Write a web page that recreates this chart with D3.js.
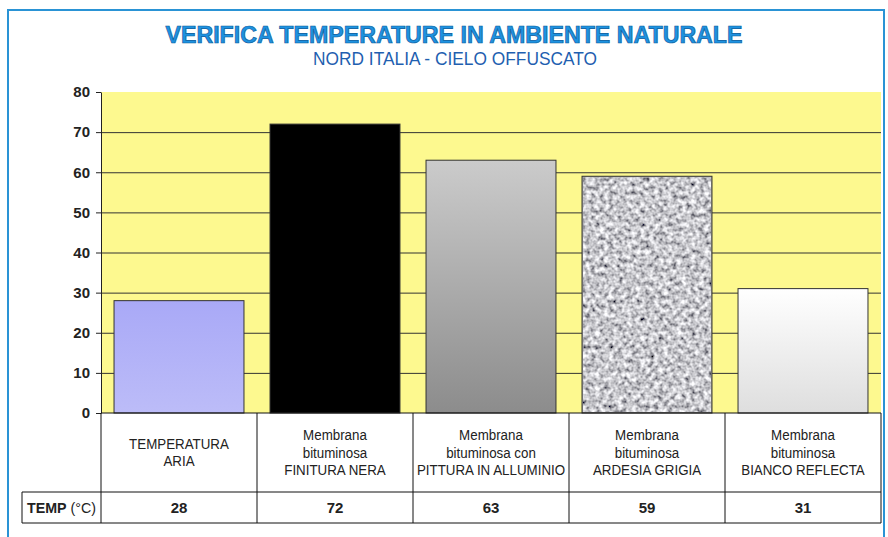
<!DOCTYPE html>
<html>
<head>
<meta charset="utf-8">
<script src="https://cdn.jsdelivr.net/npm/d3@7"></script>
<style>
  body { margin: 0; background: #fff; }
  svg { display: block; font-family: "Liberation Sans", Arial, sans-serif; }
</style>
</head>
<body>
<svg id="svg" width="888" height="537"></svg>
<script>
// chart data
const categories = ["aria", "nera", "alluminio", "ardesia", "reflecta"];
const categoryLines = [
  ["TEMPERATURA", "ARIA"],
  ["Membrana", "bituminosa", "FINITURA NERA"],
  ["Membrana", "bituminosa con", "PITTURA IN ALLUMINIO"],
  ["Membrana", "bituminosa", "ARDESIA GRIGIA"],
  ["Membrana", "bituminosa", "BIANCO REFLECTA"]
];
const temps = [28, 72, 63, 59, 31];
const yTicks = [0, 10, 20, 30, 40, 50, 60, 70, 80];
const title = "VERIFICA TEMPERATURE IN AMBIENTE NATURALE";
const subtitle = "NORD ITALIA - CIELO OFFUSCATO";

const svg = d3.select("svg");
const plotLeft = 101, plotRight = 881, plotTop = 92, plotBottom = 413;
const catRowBottom = 492, valRowBottom = 523;

// defs: gradients and granite texture
const defs = svg.append("defs");
const grayGrad = defs.append("linearGradient").attr("id", "gray").attr("x1", 0).attr("y1", 0).attr("x2", 0).attr("y2", 1);
grayGrad.append("stop").attr("offset", "0%").attr("stop-color", "#cbcbcb");
grayGrad.append("stop").attr("offset", "100%").attr("stop-color", "#8c8c8c");
const whiteGrad = defs.append("linearGradient").attr("id", "white").attr("x1", 0).attr("y1", 0).attr("x2", 0).attr("y2", 1);
whiteGrad.append("stop").attr("offset", "0%").attr("stop-color", "#ffffff");
whiteGrad.append("stop").attr("offset", "100%").attr("stop-color", "#dedede");
const purpleGrad = defs.append("linearGradient").attr("id", "purple").attr("x1", 0).attr("y1", 0).attr("x2", 0).attr("y2", 1);
purpleGrad.append("stop").attr("offset", "0%").attr("stop-color", "#a9a9f7");
purpleGrad.append("stop").attr("offset", "100%").attr("stop-color", "#bcbcf8");

// granite: coarse grey noise
const granite = defs.append("filter").attr("id", "granite").attr("x", 0).attr("y", 0).attr("width", 1).attr("height", 1);
granite.append("feTurbulence").attr("type", "fractalNoise").attr("baseFrequency", 0.22).attr("numOctaves", 2).attr("seed", 7).attr("result", "n");
granite.append("feColorMatrix").attr("in", "n").attr("type", "matrix")
  .attr("values", "1.6 0 0 0 -0.22  1.6 0 0 0 -0.22  1.6 0 0 0 -0.19  0 0 0 0 1")
  .attr("result", "g");
granite.append("feComposite").attr("in", "g").attr("in2", "SourceGraphic").attr("operator", "in");

const fills = ["url(#purple)", "#000000", "url(#gray)", "#a8a8a8", "url(#white)"];

// blue frame
svg.append("rect")
  .attr("x", 8).attr("y", 10).attr("width", 876).attr("height", 540)
  .attr("fill", "none").attr("stroke", "#2a93d5").attr("stroke-width", 2);

// titles
svg.append("text")
  .attr("x", 454).attr("y", 43).attr("text-anchor", "middle")
  .attr("font-size", 23).attr("font-weight", "bold")
  .attr("fill", "#1e92e0").attr("stroke", "#0b5c9e").attr("stroke-width", 0.7)
  .attr("textLength", 577).attr("lengthAdjust", "spacingAndGlyphs")
  .text(title);
svg.append("text")
  .attr("x", 455).attr("y", 65).attr("text-anchor", "middle")
  .attr("font-size", 18.5).attr("fill", "#1f5fb0")
  .attr("textLength", 284).attr("lengthAdjust", "spacingAndGlyphs")
  .text(subtitle);

// scales
const x = d3.scaleBand().domain(categories).range([plotLeft, plotRight]).paddingInner(0.167).paddingOuter(0.0835);
const xCol = d3.scaleBand().domain(categories).range([plotLeft, plotRight]);
const y = d3.scaleLinear().domain([0, 80]).range([plotBottom, plotTop]);

// plot background
svg.append("rect")
  .attr("x", plotLeft).attr("y", y(80)).attr("width", plotRight - plotLeft).attr("height", y(0) - y(80))
  .attr("fill", "#fdf98f");

// gridlines
svg.append("g")
  .attr("transform", `translate(${plotLeft},0)`)
  .call(d3.axisLeft(y).tickValues(yTicks.filter(d => d > 0 && d < 80)).tickSize(-(plotRight - plotLeft)).tickFormat(""))
  .call(g => g.select(".domain").remove())
  .call(g => g.selectAll("line").attr("stroke", "#333").attr("stroke-width", 1));

// bars
svg.append("g").selectAll("rect")
  .data(temps)
  .join("rect")
  .attr("x", (d, i) => x(categories[i]))
  .attr("y", d => y(d))
  .attr("width", x.bandwidth())
  .attr("height", d => y(0) - y(d))
  .attr("fill", (d, i) => fills[i])
  .attr("stroke", "#333")
  .attr("stroke-width", 1);

// granite texture overlay on bar 4
svg.append("rect")
  .attr("x", x(categories[3]) + 1).attr("y", y(temps[3]) + 1)
  .attr("width", x.bandwidth() - 2).attr("height", y(0) - y(temps[3]) - 2)
  .attr("fill", "#fff")
  .attr("filter", "url(#granite)");

// y axis
const yAxis = svg.append("g")
  .attr("transform", `translate(${plotLeft},0)`)
  .call(d3.axisLeft(y).tickValues(yTicks).tickSize(5).tickPadding(6).tickSizeOuter(0));
yAxis.select(".domain").attr("stroke", "#222");
yAxis.selectAll("line").attr("stroke", "#222");
yAxis.selectAll("text")
  .attr("font-size", 15).attr("font-weight", "bold").attr("fill", "#222")
  .attr("font-family", "'Liberation Sans', Arial, sans-serif");

// data table
const table = svg.append("g").attr("stroke", "#111").attr("stroke-width", 1).attr("fill", "none");
table.append("line").attr("x1", plotLeft).attr("x2", plotRight).attr("y1", plotBottom).attr("y2", plotBottom);
table.append("line").attr("x1", 22).attr("x2", plotRight).attr("y1", catRowBottom).attr("y2", catRowBottom);
table.append("line").attr("x1", 22).attr("x2", plotRight).attr("y1", valRowBottom).attr("y2", valRowBottom);
table.append("line").attr("x1", 22).attr("x2", 22).attr("y1", catRowBottom).attr("y2", valRowBottom);
table.selectAll(".col")
  .data(categories.concat(["end"]))
  .join("line")
  .attr("x1", (d, i) => i < categories.length ? xCol(d) : plotRight)
  .attr("x2", (d, i) => i < categories.length ? xCol(d) : plotRight)
  .attr("y1", plotBottom).attr("y2", valRowBottom);

// category labels (slightly condensed like the original)
const catText = svg.append("g").selectAll("text")
  .data(categoryLines)
  .join("text")
  .attr("text-anchor", "middle")
  .attr("font-size", 15)
  .attr("fill", "#222")
  .attr("transform", (d, i) => `translate(${xCol(categories[i]) + xCol.bandwidth() / 2},${(plotBottom + catRowBottom) / 2}) scale(0.89,1)`);
catText.selectAll("tspan")
  .data(d => d.map((t, j) => ({ t, j, n: d.length })))
  .join("tspan")
  .attr("x", 0)
  .attr("y", d => (d.j - (d.n - 1) / 2) * 18 + 5)
  .text(d => d.t);

// value row
svg.append("g").selectAll("text")
  .data(temps)
  .join("text")
  .attr("x", (d, i) => xCol(categories[i]) + xCol.bandwidth() / 2)
  .attr("y", (catRowBottom + valRowBottom) / 2 + 5.5)
  .attr("text-anchor", "middle")
  .attr("font-size", 15).attr("font-weight", "bold").attr("fill", "#222")
  .text(d => d);

const rowLabel = svg.append("text")
  .attr("x", 27).attr("y", (catRowBottom + valRowBottom) / 2 + 5.5)
  .attr("font-size", 15).attr("fill", "#222")
  .attr("textLength", 69).attr("lengthAdjust", "spacingAndGlyphs");
rowLabel.append("tspan").attr("font-weight", "bold").text("TEMP");
rowLabel.append("tspan").text(" (°C)");
</script>
</body>
</html>
